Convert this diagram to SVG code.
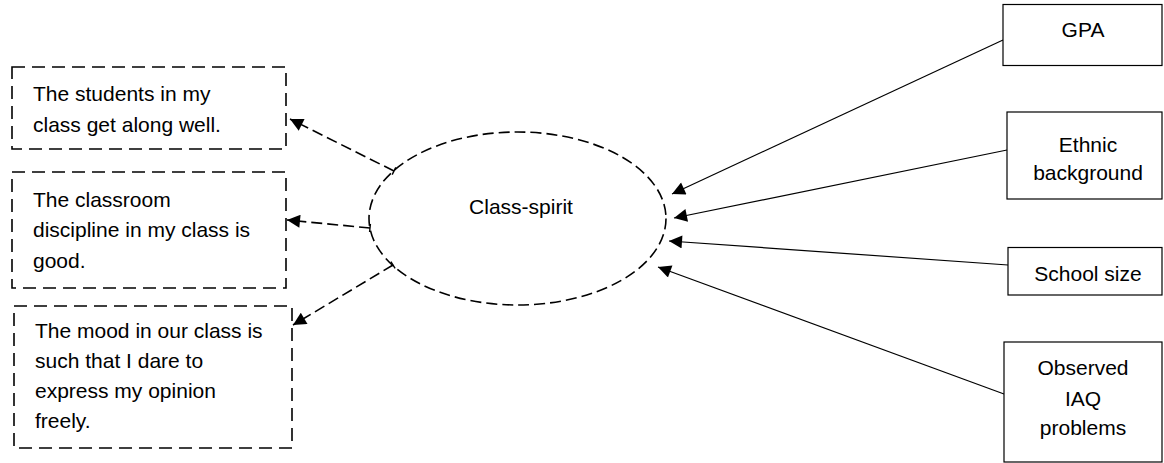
<svg xmlns="http://www.w3.org/2000/svg" width="1164" height="463" viewBox="0 0 1164 463">
<style>
text{font-family:"Liberation Sans",Arial,sans-serif;font-size:21px;fill:#000}
.dbox{fill:#fff;stroke:#000;stroke-width:1.6;stroke-dasharray:13 7}
.sbox{fill:#fff;stroke:#000;stroke-width:1.2}
.dline{stroke:#000;stroke-width:1.6;stroke-dasharray:11 5;fill:none}
.tick{stroke:#000;stroke-width:1.4}
.sline{stroke:#000;stroke-width:1.2;fill:none}
.c{text-anchor:middle}
</style>
<defs>
<marker id="ah" viewBox="0 0 10 10" refX="10" refY="5" markerWidth="16" markerHeight="13" markerUnits="userSpaceOnUse" orient="auto">
<path d="M0,0 L10,5 L0,10 z" fill="#000"/>
</marker>
</defs>
<rect width="1164" height="463" fill="#fff"/>
<g id="connectors">
<line class="dline" x1="394" y1="171" x2="290" y2="119" marker-end="url(#ah)"/>
<line class="dline" x1="370" y1="228" x2="287" y2="220" marker-end="url(#ah)"/>
<line class="dline" x1="393" y1="265" x2="293" y2="325" marker-end="url(#ah)"/>
<line class="tick" x1="392.2" y1="174.6" x2="395.8" y2="167.4"/>
<line class="tick" x1="369.6" y1="232" x2="370.4" y2="224"/>
<line class="tick" x1="390.9" y1="261.6" x2="395.1" y2="268.4"/>
<line class="sline" x1="1003" y1="40" x2="672" y2="194" marker-end="url(#ah)"/>
<line class="sline" x1="1007" y1="150" x2="674" y2="218" marker-end="url(#ah)"/>
<line class="sline" x1="1008" y1="265" x2="669" y2="241" marker-end="url(#ah)"/>
<line class="sline" x1="1004" y1="394" x2="658" y2="267" marker-end="url(#ah)"/>
</g>
<g id="classspirit">
<ellipse cx="517.5" cy="218.5" rx="148.5" ry="86.5" fill="none" stroke="#000" stroke-width="1.6" stroke-dasharray="11 5"/>
<text class="c" x="521" y="214">Class-spirit</text>
</g>
<g id="item1">
<rect class="dbox" x="12" y="67" width="274" height="82"/>
<text x="33" y="101">The students in my</text>
<text x="33" y="132">class get along well.</text>
</g>
<g id="item2">
<rect class="dbox" x="12" y="172" width="274" height="116"/>
<text x="33" y="207">The classroom</text>
<text x="33" y="237">discipline in my class is</text>
<text x="33" y="268">good.</text>
</g>
<g id="item3">
<rect class="dbox" x="14" y="306" width="278" height="142"/>
<text x="35" y="338">The mood in our class is</text>
<text x="35" y="368">such that I dare to</text>
<text x="35" y="398">express my opinion</text>
<text x="35" y="428">freely.</text>
</g>
<g id="gpa">
<rect class="sbox" x="1003" y="4.5" width="159" height="61"/>
<text class="c" x="1083" y="37">GPA</text>
</g>
<g id="ethnic">
<rect class="sbox" x="1007" y="112" width="155" height="87"/>
<text class="c" x="1088" y="152">Ethnic</text>
<text class="c" x="1088" y="180">background</text>
</g>
<g id="schoolsize">
<rect class="sbox" x="1008" y="247.5" width="154" height="47.5"/>
<text class="c" x="1088" y="281">School size</text>
</g>
<g id="iaq">
<rect class="sbox" x="1004" y="342" width="158" height="120"/>
<text class="c" x="1083" y="375">Observed</text>
<text class="c" x="1083" y="406">IAQ</text>
<text class="c" x="1083" y="435">problems</text>
</g>
</svg>
